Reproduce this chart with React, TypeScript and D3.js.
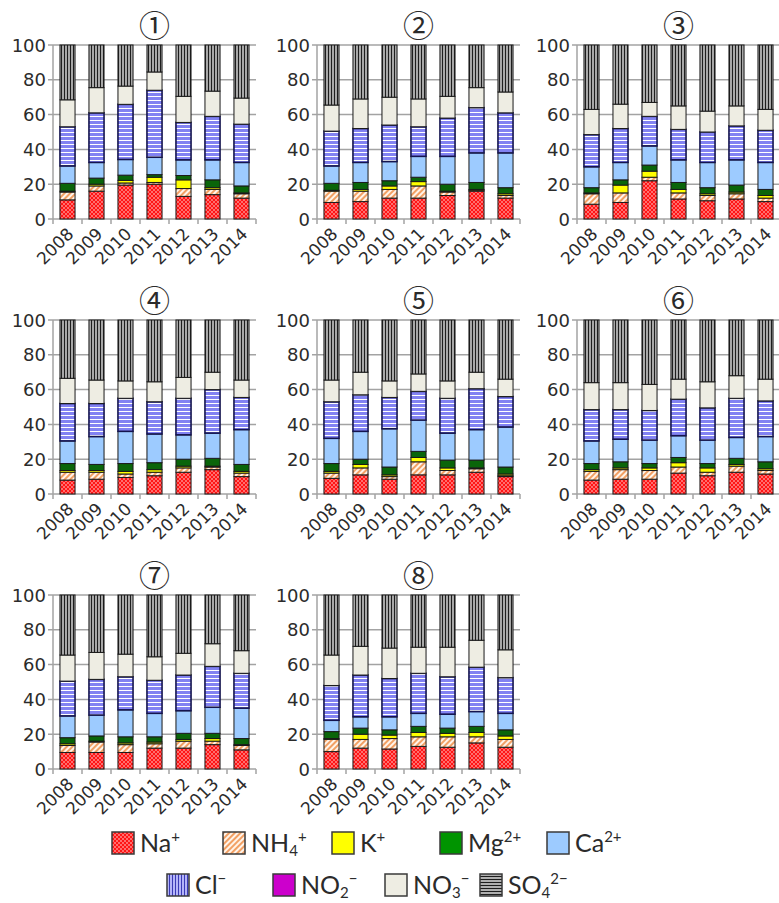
import * as d3 from "d3";

const YEARS = ["2008", "2009", "2010", "2011", "2012", "2013", "2014"];
const PANEL_LABELS = ["①", "②", "③", "④", "⑤", "⑥", "⑦", "⑧"];
const Y_TICKS = [0, 20, 40, 60, 80, 100];

// percent share per panel (rows) and year (columns)
const NA = [
  [11, 16, 19.5, 20, 13, 14, 12],
  [9.5, 10, 12, 12, 13.5, 16, 12],
  [8.5, 9.5, 22, 11.5, 10.5, 11.5, 10],
  [8, 8.5, 9.5, 10.5, 12.5, 14, 10],
  [9, 11, 8.5, 11, 11, 12.5, 10],
  [8, 8.5, 8.5, 12, 10.5, 12.5, 11.5],
  [9.5, 9.5, 9.5, 12, 12, 14, 11],
  [10, 12, 11.5, 13, 12.5, 15, 12.5],
];
const NH4 = [
  [4.5, 3, 1.2, 1, 4.5, 3, 2.5],
  [6.5, 6, 5, 7, 2, 0.5, 1.5],
  [6, 5.5, 2, 3.5, 3, 3, 2],
  [4.5, 4, 2, 2, 2.5, 1.5, 2],
  [3, 4, 1.5, 7.5, 2.5, 2, 0.5],
  [5, 5.5, 5, 3.5, 2, 3.5, 2],
  [4, 6, 4.5, 2.5, 4, 2, 2.5],
  [7, 5, 6, 5.5, 6, 3.5, 4.5],
];
const K = [
  [0.5, 1, 1.5, 3, 5, 1, 0.5],
  [0.5, 1, 2, 2.5, 0.5, 0.5, 1],
  [0.5, 4.5, 3.5, 2, 1, 1, 1.5],
  [1, 1, 1.5, 1.5, 1, 0.5, 1],
  [1, 2, 1, 2.5, 1.5, 0.5, 1],
  [1, 1, 1.5, 2.5, 2.5, 1, 1],
  [1, 0.5, 1, 1, 1, 1.5, 0.5],
  [0.5, 3, 2, 2.5, 2, 2.5, 2],
];
const MG = [
  [4.5, 3.5, 3, 1.5, 2.5, 4.5, 4],
  [4, 4, 3, 2.5, 4, 4, 3.5],
  [3, 3, 3.5, 4, 3.5, 4, 3.5],
  [4, 3.5, 4.5, 4, 4, 4.5, 4],
  [4.5, 3, 4.5, 3.5, 4.5, 4.5, 4],
  [3.5, 3.5, 2.5, 3, 2.5, 3.5, 4],
  [3.5, 3, 3.5, 3, 3.5, 3, 3.5],
  [4, 3.5, 3, 3.5, 3, 3.5, 3.5],
];
const CA = [
  [10, 9, 9, 10, 9, 11.5, 13.5],
  [10, 11.5, 11, 12, 16, 17, 20],
  [12, 10, 11, 13, 14.5, 14.5, 15.5],
  [13, 16, 18.5, 16.5, 14, 14.5, 20],
  [14.5, 16, 22, 18, 15.5, 17.5, 23],
  [13, 13, 13.5, 12.5, 13.5, 12, 14.5],
  [12.5, 12, 15.5, 13.5, 13, 15, 17.5],
  [6.5, 6.5, 7.5, 7.5, 8, 8.5, 9.5],
];
const CL = [
  [22.5, 28.5, 31.7, 38.5, 21.5, 25, 22],
  [20, 19.5, 21, 17, 22, 26, 23],
  [18.5, 19.5, 17, 17.5, 17.5, 19.5, 18.5],
  [21.5, 19, 19, 18.5, 21, 25, 18.5],
  [21, 21, 18, 16.5, 20, 23.5, 17.5],
  [18, 17, 17, 21, 18.5, 22.5, 20.5],
  [20, 20.5, 19, 19, 20.5, 23.5, 20],
  [20, 24, 22, 23, 21.5, 25.5, 20.5],
];
const NO2 = [
  [0, 0, 0, 0, 0, 0, 0],
  [0, 0, 0, 0, 0, 0, 0],
  [0, 0, 0, 0, 0, 0, 0],
  [0, 0, 0, 0, 0, 0, 0],
  [0, 0, 0, 0, 0, 0, 0],
  [0, 0, 0, 0, 0, 0, 0],
  [0, 0, 0, 0, 0, 0, 0],
  [0, 0, 0, 0, 0, 0, 0],
];
const NO3 = [
  [15.5, 14.5, 10.5, 10.5, 15, 14.5, 15],
  [15, 17, 16, 16, 12.5, 11.5, 12],
  [14.5, 14, 8, 13.5, 12, 11.5, 12],
  [14.5, 13.5, 10, 11.5, 12, 10, 10],
  [12.5, 13, 9.5, 10, 10, 9.5, 10],
  [15.5, 15.5, 15, 11.5, 15, 13, 12.5],
  [15, 15.5, 13, 13.5, 12.5, 13, 13],
  [17.5, 16.5, 17.5, 15, 17, 15.5, 16],
];
const SO4 = [
  [31.5, 24.5, 23.6, 15.5, 29.5, 26.5, 30.5],
  [34.5, 31, 30, 31, 29.5, 24.5, 27],
  [37, 34, 33, 35, 38, 35, 37],
  [33.5, 34.5, 35, 35.5, 33, 30, 34.5],
  [34.5, 30, 35, 31, 35, 30, 34],
  [36, 36, 37, 34, 35.5, 32, 34],
  [34.5, 33, 34, 35.5, 33.5, 28, 32],
  [34.5, 29.5, 30.5, 30, 30, 26, 31.5],
];

const KEYS = ["Na", "NH4", "K", "Mg", "Ca", "Cl", "NO2", "NO3", "SO4"];
const SERIES: Record<string, number[][]> = {
  Na: NA, NH4: NH4, K: K, Mg: MG, Ca: CA, Cl: CL, NO2: NO2, NO3: NO3, SO4: SO4,
};

// bar fills
const FILL: Record<string, string> = {
  Na: "url(#pNa)",
  NH4: "url(#pNH4)",
  K: "#ffff00",
  Mg: "#0a650a",
  Ca: "#9dcbff",
  Cl: "url(#pClH)",
  NO2: "#cc00cc",
  NO3: "#eeede3",
  SO4: "url(#pSO4V)",
};
// legend fills (the legend swaps the hatch directions, as in the original)
const LEGEND_FILL: Record<string, string> = {
  ...FILL,
  Mg: "#009400",
  Cl: "url(#pClV)",
  SO4: "url(#pSO4H)",
};

const COL_X = [53, 317, 577];
const ROW_Y = [45, 320, 595];
const PW = 203;
const PH = 174;
const GRID = "#a3a3a3";
const TXT = "#2b2b2b";
const AXIS_FONT = "'DejaVu Sans', Verdana, sans-serif";
const LEG_FONT = "Lato, 'Open Sans', sans-serif";

function Panel({ p }: { p: number }) {
  const x0 = COL_X[p % 3];
  const y0 = ROW_Y[Math.floor(p / 3)];
  const x = d3.scaleBand<string>().domain(YEARS).range([0, PW]).paddingInner(0.48).paddingOuter(0.24);
  const y = d3.scaleLinear().domain([0, 100]).range([PH, 0]);
  const rows = YEARS.map((yr, i) => {
    const r: Record<string, number | string> = { year: yr };
    KEYS.forEach((k) => (r[k] = SERIES[k][p][i]));
    return r;
  });
  const stack = d3.stack<Record<string, number | string>>().keys(KEYS).value((d, k) => d[k] as number);
  const layers = stack(rows);
  const step = x.step();
  const off = (PW - step * YEARS.length) / 2;

  return (
    <g transform={`translate(${x0},${y0})`}>
      <text x={PW / 2} y={-22} textAnchor="middle" dominantBaseline="central"
        fontSize={31} fontFamily="'Noto Sans CJK JP', 'DejaVu Sans'" fill={TXT}>
        {PANEL_LABELS[p]}
      </text>
      {Y_TICKS.map((t) => (
        <g key={t}>
          <line x1={-5} x2={PW} y1={y(t)} y2={y(t)} stroke={GRID} strokeWidth={1.5} />
          <text x={-7} y={y(t)} textAnchor="end" dominantBaseline="central"
            fontSize={18} fontFamily={AXIS_FONT} fill={TXT}>{t}</text>
        </g>
      ))}
      <line x1={0} x2={0} y1={0} y2={PH} stroke={GRID} strokeWidth={1.5} />
      {d3.range(YEARS.length + 1).map((i) => (
        <line key={i} x1={off + i * step} x2={off + i * step} y1={PH} y2={PH + 5} stroke={GRID} strokeWidth={1.5} />
      ))}
      {layers.map((layer) => (
        <g key={layer.key}>
          {layer.map((d, i) =>
            d[1] - d[0] > 0 ? (
              <rect key={i} x={x(YEARS[i])} width={x.bandwidth()} y={y(d[1])} height={y(d[0]) - y(d[1])}
                fill={FILL[layer.key]}
                stroke={layer.key === "Cl" ? "#14144e" : "#1a1a1a"}
                strokeWidth={layer.key === "Cl" ? 1.6 : 1} />
            ) : null
          )}
        </g>
      ))}
      {YEARS.map((yr) => (
        <text key={yr} transform={`translate(${(x(yr) ?? 0) + x.bandwidth() / 2 - 2},${PH + 7}) rotate(-45)`}
          textAnchor="end" dominantBaseline="hanging" fontSize={17} fontFamily={AXIS_FONT} fill={TXT}>
          {yr}
        </text>
      ))}
    </g>
  );
}

type Part = { t: string; s?: "sup" | "sub" };
const LEGEND_ROWS: { key: string; x: number; parts: Part[] }[][] = [
  [
    { key: "Na", x: 112, parts: [{ t: "Na" }, { t: "+", s: "sup" }] },
    { key: "NH4", x: 223, parts: [{ t: "NH" }, { t: "4", s: "sub" }, { t: "+", s: "sup" }] },
    { key: "K", x: 332, parts: [{ t: "K" }, { t: "+", s: "sup" }] },
    { key: "Mg", x: 440, parts: [{ t: "Mg" }, { t: "2+", s: "sup" }] },
    { key: "Ca", x: 547, parts: [{ t: "Ca" }, { t: "2+", s: "sup" }] },
  ],
  [
    { key: "Cl", x: 167, parts: [{ t: "Cl" }, { t: "−", s: "sup" }] },
    { key: "NO2", x: 273, parts: [{ t: "NO" }, { t: "2", s: "sub" }, { t: "−", s: "sup" }] },
    { key: "NO3", x: 385, parts: [{ t: "NO" }, { t: "3", s: "sub" }, { t: "−", s: "sup" }] },
    { key: "SO4", x: 480, parts: [{ t: "SO" }, { t: "4", s: "sub" }, { t: "2−", s: "sup" }] },
  ],
];
const LEGEND_Y = [832, 874];

function Label({ parts }: { parts: Part[] }) {
  let cur = 0;
  return (
    <>
      {parts.map((p, i) => {
        const target = p.s === "sup" ? -10 : p.s === "sub" ? 4 : 0;
        const dy = target - cur;
        cur = target;
        return (
          <tspan key={i} dy={dy} fontSize={p.s ? 15 : 25}>{p.t}</tspan>
        );
      })}
    </>
  );
}

export default function App() {
  return (
    <svg width={779} height={903} style={{ position: "absolute", left: 0, top: 0, background: "#fff" }}>
      <defs>
        <pattern id="pNa" patternUnits="userSpaceOnUse" width={4} height={4}>
          <rect width={4} height={4} fill="#ff1515" />
          <circle cx={1} cy={1} r={0.8} fill="#ffe0e0" />
          <circle cx={3} cy={3} r={0.8} fill="#ffe0e0" />
        </pattern>
        <pattern id="pNH4" patternUnits="userSpaceOnUse" width={4} height={4} patternTransform="rotate(45)">
          <rect width={4} height={4} fill="#fff4ea" />
          <rect width={2} height={4} fill="#f2a064" />
        </pattern>
        <pattern id="pClH" patternUnits="userSpaceOnUse" width={4} height={4}>
          <rect width={4} height={4} fill="#8282f2" />
          <rect y={3} width={4} height={1} fill="#ffffff" />
        </pattern>
        <pattern id="pClV" patternUnits="userSpaceOnUse" width={3} height={3}>
          <rect width={3} height={3} fill="#b4b4f8" />
          <rect x={2} width={1} height={3} fill="#3a3ab5" />
        </pattern>
        <pattern id="pSO4V" patternUnits="userSpaceOnUse" width={3} height={3}>
          <rect width={3} height={3} fill="#a8a8a8" />
          <rect x={2} width={1} height={3} fill="#1e1e1e" />
        </pattern>
        <pattern id="pSO4H" patternUnits="userSpaceOnUse" width={3} height={3}>
          <rect width={3} height={3} fill="#b0b0b0" />
          <rect y={2} width={3} height={1} fill="#1e1e1e" />
        </pattern>
      </defs>
      {PANEL_LABELS.map((_, p) => (
        <Panel key={p} p={p} />
      ))}
      {LEGEND_ROWS.map((row, r) =>
        row.map((it) => (
          <g key={it.key} transform={`translate(${it.x},${LEGEND_Y[r]})`}>
            <rect width={22} height={22} fill={LEGEND_FILL[it.key]} stroke="#3a3a3a" strokeWidth={1.5} />
            <text x={28} y={20} fontFamily={LEG_FONT} fill={TXT}>
              <Label parts={it.parts} />
            </text>
          </g>
        ))
      )}
    </svg>
  );
}
